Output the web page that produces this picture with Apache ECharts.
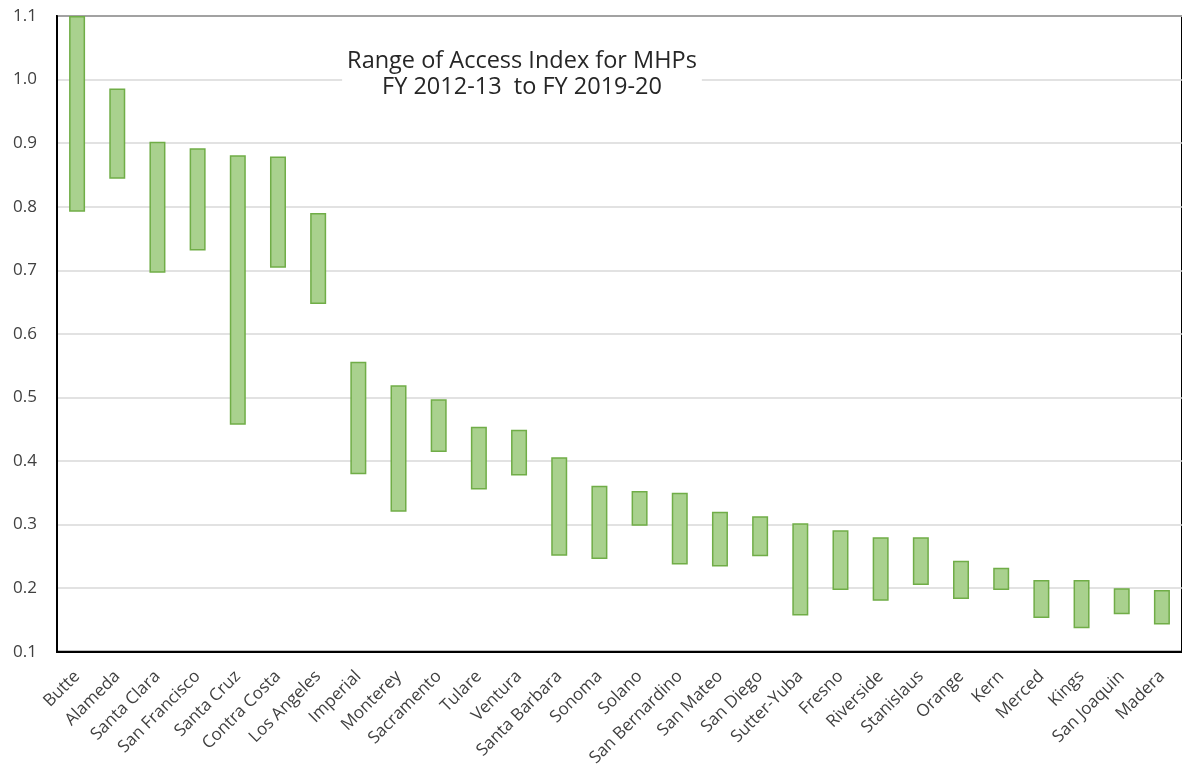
<!DOCTYPE html>
<html>
<head>
<meta charset="utf-8">
<script src="https://cdn.jsdelivr.net/npm/echarts@6/dist/echarts.min.js"></script>
<style>
  html, body { margin: 0; padding: 0; background: #fff; }
  #chart { width: 1182px; height: 769px; }
</style>
</head>
<body>
<div id="chart"></div>
<script>
// counties, sorted by top of range
const counties = ['Butte', 'Alameda', 'Santa Clara', 'San Francisco', 'Santa Cruz', 'Contra Costa',
  'Los Angeles', 'Imperial', 'Monterey', 'Sacramento', 'Tulare', 'Ventura', 'Santa Barbara',
  'Sonoma', 'Solano', 'San Bernardino', 'San Mateo', 'San Diego', 'Sutter-Yuba', 'Fresno',
  'Riverside', 'Stanislaus', 'Orange', 'Kern', 'Merced', 'Kings', 'San Joaquin', 'Madera'];
const lowValues = [0.792, 0.844, 0.696, 0.731, 0.457, 0.704, 0.647, 0.379, 0.320, 0.414, 0.355,
  0.377, 0.251, 0.246, 0.298, 0.237, 0.234, 0.250, 0.157, 0.197, 0.180, 0.205, 0.183, 0.197,
  0.153, 0.137, 0.159, 0.143];
const highValues = [1.100, 0.986, 0.902, 0.892, 0.881, 0.879, 0.790, 0.556, 0.519, 0.497, 0.454,
  0.449, 0.406, 0.361, 0.353, 0.350, 0.320, 0.313, 0.302, 0.291, 0.280, 0.280, 0.243, 0.232,
  0.213, 0.213, 0.200, 0.197];

const labelFont = "'Open Sans', sans-serif";
const chart = echarts.init(document.getElementById('chart'));

chart.setOption({
  animation: false,
  title: {
    text: 'Range of Access Index for MHPs\nFY 2012-13  to FY 2019-20',
    left: 517,
    top: 44,
    padding: [4, 5],
    backgroundColor: '#fff',
    textAlign: 'center',
    textStyle: {
      fontFamily: labelFont,
      fontSize: 23.5,
      fontWeight: 'normal',
      color: '#262626',
      lineHeight: 26.5
    }
  },
  grid: {
    left: 57,
    top: 16,
    width: 1132,
    height: 637,
    show: true,
    borderColor: '#000',
    borderWidth: 2
  },
  xAxis: {
    type: 'category',
    data: counties,
    axisTick: { show: false },
    axisLine: { lineStyle: { color: '#000', width: 2 } },
    axisLabel: {
      interval: 0,
      rotate: 45,
      margin: 22,
      fontSize: 17,
      fontFamily: labelFont,
      color: '#404040'
    }
  },
  yAxis: {
    type: 'value',
    min: 0.1,
    max: 1.1,
    interval: 0.1,
    axisLine: { show: true, lineStyle: { color: '#000', width: 2 } },
    axisTick: { show: false },
    axisLabel: {
      margin: 20,
      fontSize: 17,
      fontFamily: labelFont,
      color: '#404040',
      formatter: v => v.toFixed(1)
    },
    splitLine: { lineStyle: { color: '#d9d9d9', width: 1.5 } }
  },
  series: [
    {
      name: 'low',
      type: 'bar',
      stack: 'range',
      barWidth: 16,
      itemStyle: { color: 'transparent' },
      data: lowValues
    },
    {
      name: 'range',
      type: 'bar',
      stack: 'range',
      barWidth: 16,
      itemStyle: {
        color: '#a9d18e',
        borderColor: '#70ad47',
        borderWidth: 1.5
      },
      data: highValues.map((h, i) => +(h - lowValues[i]).toFixed(3))
    }
  ]
});
</script>
</body>
</html>
